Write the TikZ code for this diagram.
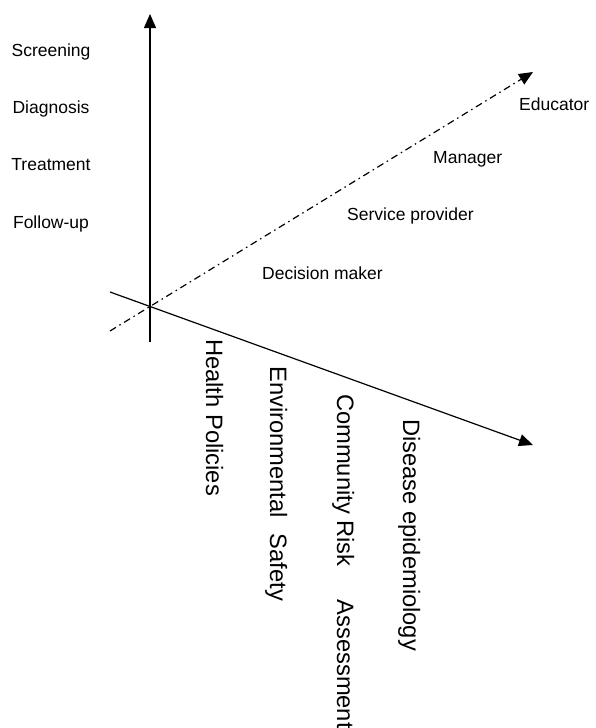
\documentclass[tikz,border=0pt]{standalone}
\usepackage{fontspec}
\setmainfont{Liberation Sans}
\usetikzlibrary{arrows.meta,positioning}
\tikzset{axis line/.style={line width=1.2pt,-{Triangle[length=14pt,width=12pt]}},
         role axis/.style={axis line,dash pattern=on 7pt off 4pt on 1.5pt off 4pt},
         step label/.style={font=\fontsize{17.5}{20}\selectfont,anchor=base,inner sep=0pt},
         role label/.style={font=\fontsize{17.5}{20}\selectfont,anchor=base west,inner sep=0pt},
         field label/.style={font=\fontsize{23.7}{26}\selectfont,rotate=-90,anchor=base west,inner sep=0pt}
}

\begin{document}
\begin{tikzpicture}[x=1pt,y=-1pt]

    \useasboundingbox (0,0) rectangle (596,728);

    % axis end points
    \coordinate (vbot)  at (150,342);
    \coordinate (vtop)  at (150,14);
    \coordinate (htail) at (110,292);
    \coordinate (hhead) at (533,445);
    \coordinate (dtail) at (110,331);
    \coordinate (dhead) at (533,72);

    \draw[axis line] (vbot) -- (vtop);
    \draw[axis line] (htail) -- (hhead);
    \draw[role axis] (dtail) -- (dhead);

    % care steps
    \node[step label] (screen) at (51,56)  {Screening};
    \node[step label] (diag)   at (51,113) {Diagnosis};
    \node[step label] (treat)  at (51,170) {Treatment};
    \node[step label] (follow) at (51,228) {Follow-up};

    % roles
    \node[role label] (educ)  at (519,110) {Educator};
    \node[role label] (mgr)   at (433,163) {Manager};
    \node[role label] (serv)  at (347,220) {Service provider};
    \node[role label] (decis) at (262,279) {Decision maker};

    % fields
    \node[field label] (health)  at (206,339) {Health Policies};
    \node[field label] (environ) at (270,366) {Environmental\hspace{16pt}Safety};
    \node[field label] (commun)  at (337,394) {Community Risk\hspace{33pt}Assessment};
    \node[field label] (disease) at (403,419) {Disease epidemiology};

\end{tikzpicture}
\end{document}
